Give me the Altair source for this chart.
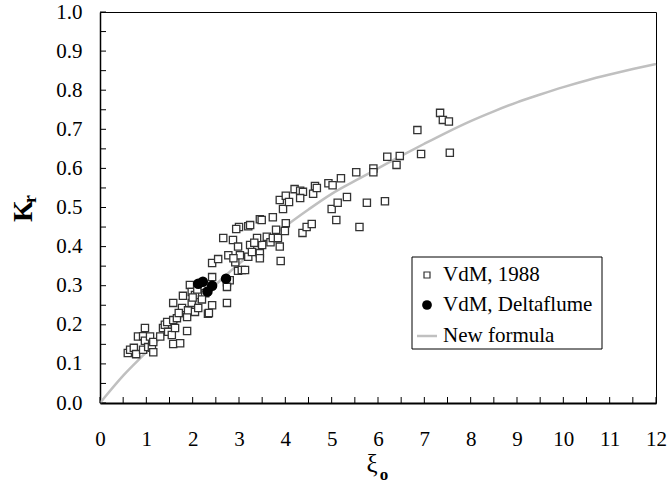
import altair as alt
import pandas as pd

# ---------------- data ----------------
vdm_x = [0.60, 0.65, 0.73, 0.78, 0.82, 0.93, 0.93, 0.97, 0.97, 1.04, 1.08, 1.12, 1.15, 1.15,
         1.30, 1.36, 1.40, 1.45, 1.47, 1.55, 1.58, 1.58, 1.62, 1.66, 1.73, 1.88, 1.58, 1.77,
         1.79, 1.88, 1.90, 1.94, 1.98, 1.98, 2.05, 2.05, 2.12, 2.27, 2.33, 2.42, 2.42, 2.42,
         2.55, 2.74, 2.80, 2.74, 2.74, 2.77, 2.66, 2.87, 2.98, 2.92, 2.98, 3.06, 3.13, 3.02,
         3.20, 3.24, 3.28, 3.45, 3.50, 3.39, 3.60, 3.45, 3.33, 3.68, 3.73, 3.84, 3.88, 3.90,
         3.80, 3.99, 4.01, 3.00, 2.94, 3.20, 3.24, 3.45, 3.49, 3.73, 3.95, 3.88, 4.01, 4.08,
         4.20, 4.32, 4.38, 4.32, 4.60, 4.64, 4.68, 4.93, 5.02, 5.20, 5.53, 5.90, 5.90, 4.37,
         4.46, 4.57, 5.10, 5.00, 5.13, 5.33, 5.60, 5.76, 6.15, 6.20, 6.47, 6.40, 6.85, 6.93,
         7.34, 7.40, 7.53, 7.55, 2.88, 2.35, 2.00, 2.10, 1.70, 2.20]
vdm_y = [0.128, 0.136, 0.141, 0.125, 0.170, 0.171, 0.136, 0.192, 0.159, 0.143, 0.170, 0.141, 0.156, 0.130,
         0.170, 0.192, 0.200, 0.207, 0.182, 0.174, 0.212, 0.151, 0.192, 0.217, 0.153, 0.184, 0.256, 0.243,
         0.274, 0.220, 0.237, 0.302, 0.284, 0.256, 0.276, 0.233, 0.243, 0.281, 0.228, 0.250, 0.322, 0.358,
         0.368, 0.309, 0.314, 0.297, 0.256, 0.378, 0.422, 0.417, 0.400, 0.360, 0.338, 0.340, 0.340, 0.378,
         0.374, 0.404, 0.386, 0.383, 0.404, 0.422, 0.425, 0.370, 0.410, 0.411, 0.422, 0.422, 0.400, 0.363,
         0.443, 0.440, 0.460, 0.450, 0.445, 0.452, 0.455, 0.470, 0.468, 0.475, 0.496, 0.519, 0.530, 0.514,
         0.547, 0.543, 0.540, 0.524, 0.535, 0.555, 0.550, 0.562, 0.557, 0.575, 0.590, 0.600, 0.590, 0.435,
         0.450, 0.458, 0.468, 0.496, 0.512, 0.527, 0.450, 0.512, 0.516, 0.630, 0.632, 0.609, 0.698, 0.637,
         0.742, 0.724, 0.720, 0.640, 0.370, 0.230, 0.270, 0.290, 0.230, 0.265]

delta_x = [2.12, 2.22, 2.32, 2.42, 2.72]
delta_y = [0.305, 0.310, 0.285, 0.300, 0.318]

formula_x = [0.0, 0.5, 1.0, 1.5, 2.0, 2.5, 3.0, 3.5, 4.0, 4.5, 5.0, 5.5, 6.0,
             6.5, 7.0, 7.5, 8.0, 8.5, 9.0, 9.5, 10.0, 10.5, 11.0, 11.5, 12.0]
formula_y = [0.0, 0.070, 0.130, 0.190, 0.248, 0.303, 0.356, 0.405, 0.452, 0.495, 0.535, 0.568, 0.600,
             0.632, 0.663, 0.693, 0.721, 0.746, 0.769, 0.789, 0.808, 0.825, 0.840, 0.854, 0.867]

x_labels = [0, 1, 2, 3, 4, 5, 6, 7, 8, 9, 10, 11, 12]
y_labels = [0.0, 0.1, 0.2, 0.3, 0.4, 0.5, 0.6, 0.7, 0.8, 0.9, 1.0]
x_ticks = [0, 0.5, 1, 1.5, 2, 2.5, 3, 3.5, 4, 4.5, 5, 5.5, 6, 6.5, 7, 7.5, 8, 8.5,
           9, 9.5, 10, 10.5, 11, 11.5, 12]
y_ticks = [0.0, 0.05, 0.1, 0.15, 0.2, 0.25, 0.3, 0.35, 0.4, 0.45, 0.5, 0.55, 0.6, 0.65,
           0.7, 0.75, 0.8, 0.85, 0.9, 0.95, 1.0]

legend_labels = ["VdM, 1988", "VdM, Deltaflume", "New formula"]

# ---------------- chart ----------------
FONT = "Liberation Serif"
W, H = 556, 391

xscale = alt.Scale(domain=[0, 12], nice=False, zero=False)
yscale = alt.Scale(domain=[0, 1.0], nice=False, zero=False)
xaxis = alt.Axis(values=x_labels, title=None, grid=False, ticks=False, labelPadding=25,
                 labelFont=FONT, labelFontSize=21, labelColor="black",
                 domainColor="black", domainWidth=2, labelFlush=False)
yaxis = alt.Axis(values=y_labels, title=None, grid=False, ticks=False, labelPadding=18,
                 format=".1f", labelFont=FONT, labelFontSize=21, labelColor="black",
                 domainColor="black", domainWidth=1.5, labelFlush=False)

X = lambda: alt.X("x:Q", scale=xscale, axis=xaxis)
Y = lambda: alt.Y("y:Q", scale=yscale, axis=yaxis)

df_vdm = pd.DataFrame({"x": vdm_x, "y": vdm_y})
df_delta = pd.DataFrame({"x": delta_x, "y": delta_y})
df_form = pd.DataFrame({"x": formula_x, "y": formula_y})

line = alt.Chart(df_form).mark_line(color="#c0c0c0", strokeWidth=2.5,
                                    interpolate="monotone").encode(x=X(), y=Y())
squares = alt.Chart(df_vdm).mark_point(shape="square", filled=True, fill="white",
                                       stroke="#333333", strokeWidth=1.3, size=52,
                                       opacity=1).encode(x=X(), y=Y())
circles = alt.Chart(df_delta).mark_point(shape="circle", filled=True, fill="black",
                                         size=110, opacity=1).encode(x=X(), y=Y())

xt = alt.Chart(pd.DataFrame({"x": x_ticks})).mark_rule(color="black", strokeWidth=1).encode(
    x=X(), y=alt.value(H), y2=alt.value(H - 6))
yt = alt.Chart(pd.DataFrame({"y": y_ticks})).mark_rule(color="black", strokeWidth=1).encode(
    y=Y(), x=alt.value(0), x2=alt.value(6))

one = pd.DataFrame({"a": [0]})
leg_box = alt.Chart(one).mark_rect(fill="white", stroke="black", strokeWidth=1).encode(
    x=alt.value(312), x2=alt.value(502), y=alt.value(245), y2=alt.value(337))
rows = [263, 293, 324]
leg_sq = alt.Chart(one).mark_point(shape="square", filled=True, fill="white", stroke="#333333",
                                   strokeWidth=1.2, size=36, opacity=1).encode(
    x=alt.value(327), y=alt.value(rows[0]))
leg_ci = alt.Chart(one).mark_point(shape="circle", filled=True, fill="black", size=95,
                                   opacity=1).encode(x=alt.value(327), y=alt.value(rows[1]))
leg_ln = alt.Chart(one).mark_rule(color="#c0c0c0", strokeWidth=2.5).encode(
    x=alt.value(317), x2=alt.value(337), y=alt.value(rows[2]))
leg_txt = []
for lab, r in zip(legend_labels, rows):
    leg_txt.append(alt.Chart(pd.DataFrame({"t": [lab]})).mark_text(
        align="left", baseline="middle", font=FONT, fontSize=21, color="black").encode(
        text="t:N", x=alt.value(343), y=alt.value(r)))

t_xi = alt.Chart(pd.DataFrame({"t": ["ξ"]})).mark_text(
    font=FONT, fontSize=25, color="black", baseline="middle", align="center").encode(
    text="t:N", x=alt.value(272), y=alt.value(452))
t_o = alt.Chart(pd.DataFrame({"t": ["o"]})).mark_text(
    font=FONT, fontSize=17, fontWeight="bold", color="black", baseline="middle", align="center").encode(
    text="t:N", x=alt.value(284), y=alt.value(463))
t_k = alt.Chart(pd.DataFrame({"t": ["K"]})).mark_text(
    font=FONT, fontSize=28, fontWeight="bold", color="black", baseline="middle", align="center",
    angle=270).encode(text="t:N", x=alt.value(-76), y=alt.value(199))
t_r = alt.Chart(pd.DataFrame({"t": ["r"]})).mark_text(
    font=FONT, fontSize=18, fontWeight="bold", color="black", baseline="middle", align="center",
    angle=270).encode(text="t:N", x=alt.value(-69), y=alt.value(187))

chart = alt.layer(line, squares, circles, xt, yt, leg_box, leg_sq, leg_ci, leg_ln, *leg_txt,
                  t_xi, t_o, t_k, t_r).properties(
    width=W, height=H, autosize=alt.AutoSizeParams(type="none"),
    padding={"left": 100, "top": 12, "right": 13, "bottom": 82},
    background="white",
).configure_view(stroke="black", strokeWidth=1)

chart.save("out.html", embed_options={"renderer": "svg", "actions": False})
